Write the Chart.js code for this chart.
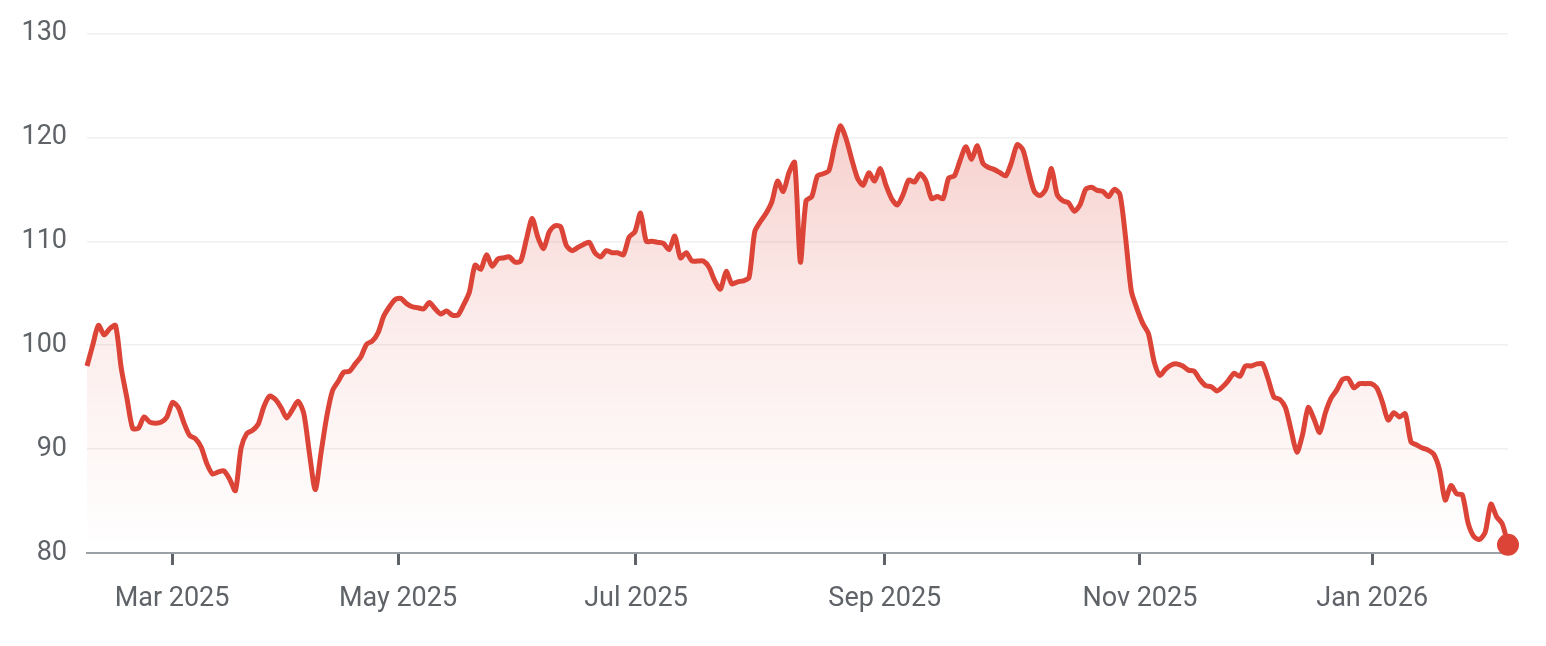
<!DOCTYPE html>
<html>
<head>
<meta charset="utf-8">
<title>Price history</title>
<script src="https://cdn.jsdelivr.net/npm/chart.js@4.4.1/dist/chart.umd.min.js"></script>
<style>
  html, body { margin: 0; padding: 0; background: #fff; }
  #wrap { width: 1546px; height: 646px; position: relative; }
</style>
</head>
<body>
<div id="wrap"><canvas id="chart"></canvas></div>
<script>
// daily closes, one per trading day (index 0 = first day shown)
const prices = [
  98.0, 100.0, 101.9, 101.0, 101.6, 101.9, 97.8, 94.9, 92.0, 92.0,
  93.1, 92.6, 92.5, 92.6, 93.1, 94.5, 94.0, 92.5, 91.3, 91.0,
  90.2, 88.6, 87.6, 87.8, 87.9, 87.1, 86.0, 90.1, 91.5, 91.8,
  92.4, 94.1, 95.1, 94.8, 94.0, 93.0, 93.8, 94.6, 93.4, 89.5,
  86.1, 89.6, 93.1, 95.6, 96.5, 97.4, 97.5, 98.2, 98.9, 100.1,
  100.4, 101.2, 102.8, 103.7, 104.4, 104.5, 104.0, 103.7, 103.6, 103.5,
  104.1, 103.5, 103.0, 103.3, 102.9, 102.9, 103.9, 105.1, 107.7, 107.3,
  108.7, 107.6, 108.3, 108.4, 108.5, 108.0, 108.1, 110.2, 112.2, 110.4,
  109.3, 110.9, 111.5, 111.4, 109.6, 109.1, 109.4, 109.7, 109.9, 108.9,
  108.5, 109.1, 108.9, 108.9, 108.7, 110.4, 110.9, 112.7, 110.0, 110.0,
  109.9, 109.8, 109.2, 110.5, 108.4, 108.9, 108.1, 108.1, 108.1, 107.5,
  106.2, 105.4, 107.1, 105.9, 106.1, 106.2, 106.5, 110.9, 111.9, 112.7,
  113.8, 115.8, 114.8, 116.6, 117.6, 108.0, 113.9, 114.3, 116.3, 116.5,
  116.8, 119.2, 121.1, 119.9, 117.9, 116.1, 115.4, 116.6, 115.8, 117.0,
  115.4, 114.1, 113.5, 114.5, 115.9, 115.7, 116.5, 115.8, 114.1, 114.3,
  114.1, 116.1, 116.3, 117.8, 119.1, 117.9, 119.2, 117.5, 117.1, 116.9,
  116.6, 116.3, 117.6, 119.3, 118.8, 116.7, 114.8, 114.4, 115.0, 117.0,
  114.5, 113.9, 113.7, 112.9, 113.5, 115.0, 115.2, 114.9, 114.8, 114.3,
  115.0, 114.5, 110.3, 105.2, 103.5, 102.1, 101.1, 98.4, 97.1, 97.7,
  98.1, 98.2, 98.0, 97.6, 97.5, 96.7, 96.1, 96.0, 95.6, 96.0,
  96.6, 97.3, 97.0, 98.0, 98.0, 98.2, 98.2, 96.7, 95.0, 94.8,
  94.0, 91.8, 89.7, 91.4, 94.0, 92.9, 91.6, 93.5, 94.9, 95.7,
  96.7, 96.8, 95.9, 96.3, 96.3, 96.3, 95.9, 94.5, 92.8, 93.5,
  93.1, 93.4, 90.7, 90.4, 90.1, 89.9, 89.5, 88.0, 85.1, 86.5,
  85.7, 85.6, 82.9, 81.6, 81.3, 82.0, 84.7, 83.5, 82.8, 80.8
];

// month ticks, placed at the trading-day index where each month starts
const tickIndex = [14.9, 54.5, 96.2, 139.8, 184.5, 225.2];
const tickLabels = ['Mar 2025', 'May 2025', 'Jul 2025', 'Sep 2025', 'Nov 2025', 'Jan 2026'];

const yMin = 80;
const yMax = 130;
const yStep = 10;

const RED = '#db4437';
const LABEL_GREY = '#5f6368';

function areaGradient(ctx) {
  const chart = ctx.chart;
  const area = chart.chartArea;
  if (!area) return 'rgba(219, 68, 55, 0.15)';
  const g = chart.ctx.createLinearGradient(0, area.top, 0, area.bottom);
  g.addColorStop(0, 'rgba(219, 68, 55, 0.32)');
  g.addColorStop(0.55, 'rgba(219, 68, 55, 0.10)');
  g.addColorStop(1, 'rgba(219, 68, 55, 0)');
  return g;
}

const lastIdx = prices.length - 1;
const points = prices.map((v, i) => ({ x: i, y: v }));

new Chart(document.getElementById('chart'), {
  type: 'line',
  data: {
    datasets: [{
      data: points,
      borderColor: RED,
      borderWidth: 5,
      backgroundColor: areaGradient,
      fill: 'start',
      tension: 0.25,
      pointRadius: (c) => (c.dataIndex === lastIdx ? 11 : 0),
      pointHoverRadius: (c) => (c.dataIndex === lastIdx ? 11 : 0),
      pointBackgroundColor: RED,
      pointBorderWidth: 0,
      clip: false,
    }],
  },
  options: {
    responsive: true,
    maintainAspectRatio: false,
    animation: false,
    devicePixelRatio: 1,
    layout: { padding: { top: 20, right: 38, left: 0, bottom: 0 } },
    plugins: {
      legend: { display: false },
      tooltip: { enabled: false },
    },
    scales: {
      x: {
        type: 'linear',
        min: 0,
        max: lastIdx,
        afterFit: (s) => { s.height = 93; },
        afterBuildTicks: (s) => { s.ticks = tickIndex.map(v => ({ value: v })); },
        grid: {
          display: true,
          drawOnChartArea: false,
          drawTicks: true,
          tickLength: 12,
          color: LABEL_GREY,
          lineWidth: 3,
        },
        border: { display: true, color: '#9aa0a6', width: 2 },
        ticks: {
          autoSkip: false,
          maxRotation: 0,
          padding: 18,
          color: LABEL_GREY,
          font: { family: 'Roboto', size: 27 },
          callback: (value, index) => tickLabels[index],
        },
      },
      y: {
        min: yMin,
        max: yMax,
        afterFit: (s) => { s.width = 87; },
        grid: { color: '#f0f0f0', lineWidth: 1.5, drawTicks: false },
        border: { display: false },
        ticks: {
          stepSize: yStep,
          padding: 20,
          color: LABEL_GREY,
          font: { family: 'Roboto', size: 27, lineHeight: 1 },
        },
      },
    },
  },
});
</script>
</body>
</html>
